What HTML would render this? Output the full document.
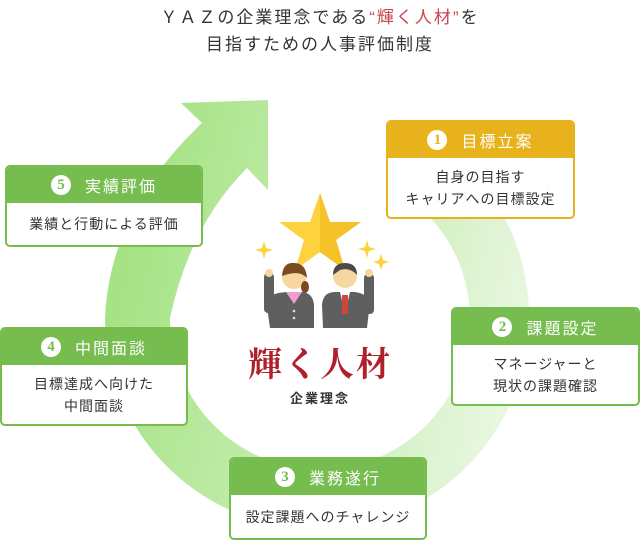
<!DOCTYPE html>
<html><head><meta charset="utf-8"><style>
*{margin:0;padding:0;box-sizing:border-box}
body{width:640px;height:540px;background:#fff;position:relative;overflow:hidden;font-family:"Liberation Sans","Noto Sans CJK JP",sans-serif;color:#333}
.title{position:absolute;left:0;width:640px;text-align:center;font-size:17px;letter-spacing:2px;line-height:27px;top:4px;color:#333}
.title .r{color:#c8464c}
.box{position:absolute;border:2px solid #76bc4f;border-radius:5px;background:#fff;overflow:hidden}
.box .h{background:#76bc4f;color:#fff;font-size:16px;letter-spacing:2px;height:36px;display:flex;align-items:center;justify-content:center}
.box .n{width:20px;height:20px;border-radius:50%;background:#fff;color:#76bc4f;font-family:"Liberation Serif",serif;font-weight:bold;font-size:15px;display:inline-flex;align-items:center;justify-content:center;margin-right:14px;letter-spacing:0}
.box .b{text-align:center;font-size:14px;letter-spacing:1px;line-height:22px;display:flex;align-items:center;justify-content:center}
.y{border-color:#e8b21d}.y .h{background:#e8b21d}.y .n{color:#e8b21d}
</style></head><body>
<div class="title">ＹＡＺの企業理念である<span class="r">“輝く人材”</span>を<br>目指すための人事評価制度</div>
<svg width="640" height="540" style="position:absolute;left:0;top:0">
<defs><linearGradient id="g" x1="150" y1="150" x2="560" y2="250" gradientUnits="userSpaceOnUse">
<stop offset="0" stop-color="#a6e384"/><stop offset="0.5" stop-color="#c6edb2"/><stop offset="0.85" stop-color="#e0f4d5"/><stop offset="1" stop-color="#ebf8e3"/></linearGradient></defs>
<path fill="url(#g)" d="M440 144 A212 212 0 1 1 105 318 Q110 210 202 123 L181 103 L268 100 L268 190 L247 168 Q190 225 170 318 A150 150 0 1 0 404 195 Z"/>
<polygon points="320,193 330,222 361,222 336,240 345,270 320,252 295,270 304,240 279,222 310,222" fill="#fcd33f"/>
<polygon points="320,193 330,222 361,222 336,240 345,270 320,252" fill="#f5c22a"/>
<g fill="#fcd33f">
<path d="M264 241 l2 7 7 2 -7 2 -2 7 -2 -7 -7 -2 7 -2z"/>
<path d="M367 240 l2 7 7 2 -7 2 -2 7 -2 -7 -7 -2 7 -2z"/>
<path d="M381 254 l2 6 6 2 -6 2 -2 6 -2 -6 -6 -2 6 -2z"/>
</g>
<rect x="264" y="273" width="10" height="40" rx="4" fill="#5f5f5f"/>
<circle cx="269" cy="273" r="4" fill="#f6d7a0"/>
<path d="M266 300 Q272 292 290 292 L300 292 Q313 292 314 305 L314 328 L270 328 Z" fill="#5f5f5f"/>
<path d="M286 292 L294 304 L302 292 Z" fill="#f59ad0"/>
<circle cx="294" cy="277" r="12" fill="#f6d7a0"/>
<path d="M282 276 Q283 262 294 263 Q306 263 307 278 Q300 270 285 275 Z" fill="#7a4a22"/>
<ellipse cx="305" cy="287" rx="4" ry="6" fill="#7a4a22"/>
<circle cx="294" cy="311" r="1.3" fill="#ddd"/><circle cx="294" cy="318" r="1.3" fill="#ddd"/>
<rect x="364" y="274" width="10" height="40" rx="4" fill="#5f5f5f"/>
<circle cx="369" cy="273" r="4" fill="#f6d7a0"/>
<path d="M322 305 Q323 292 335 292 L355 292 Q368 294 370 302 L367 328 L323 328 Z" fill="#5f5f5f"/>
<path d="M340 292 L350 292 L345 314 Z" fill="#fff"/>
<rect x="342" y="295" width="6" height="19" fill="#d2453d"/>
<circle cx="345" cy="276" r="12" fill="#f6d7a0"/>
<path d="M333 275 Q333 263 345 263 Q357 263 357 275 Q350 267 340 270 Z" fill="#4a4a4a"/>
</svg>
<div style="position:absolute;left:220px;top:337px;width:200px;text-align:center;font-family:'Liberation Serif','Noto Serif CJK SC',serif;font-weight:bold;font-size:34px;color:#b0202a;letter-spacing:2px">輝く人材</div>
<div style="position:absolute;left:220px;top:388px;width:200px;text-align:center;font-size:13px;font-weight:bold;letter-spacing:2px;color:#333">企業理念</div>

<div class="box y" style="left:386px;top:120px;width:189px;height:99px"><div class="h"><span class="n">1</span>目標立案</div><div class="b" style="height:59px">自身の目指す<br>キャリアへの目標設定</div></div>
<div class="box" style="left:451px;top:307px;width:189px;height:99px"><div class="h"><span class="n">2</span>課題設定</div><div class="b" style="height:59px">マネージャーと<br>現状の課題確認</div></div>
<div class="box" style="left:229px;top:457px;width:198px;height:83px"><div class="h"><span class="n">3</span>業務遂行</div><div class="b" style="height:43px">設定課題へのチャレンジ</div></div>
<div class="box" style="left:0px;top:327px;width:188px;height:99px"><div class="h"><span class="n">4</span>中間面談</div><div class="b" style="height:59px">目標達成へ向けた<br>中間面談</div></div>
<div class="box" style="left:5px;top:165px;width:198px;height:82px"><div class="h"><span class="n">5</span>実績評価</div><div class="b" style="height:42px">業績と行動による評価</div></div>
</body></html>
